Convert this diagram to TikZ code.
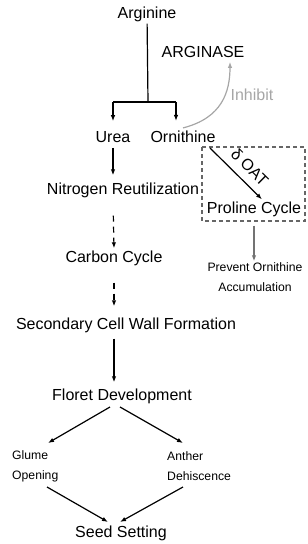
\documentclass[tikz,border=0pt]{standalone}
\usepackage{fontspec}
\setmainfont{Liberation Sans}
\usetikzlibrary{arrows.meta, calc}

\tikzset{
  big/.style={font=\fontsize{16}{18}\selectfont, inner sep=2pt},
  small/.style={font=\fontsize{12.2}{20}\selectfont, inner sep=1pt},
  flow/.style={line width=1.2pt, -{Latex[length=6pt,width=4.5pt]}},
  dashflow/.style={flow, dash pattern=on 6pt off 5pt},
}

\begin{document}
\begin{tikzpicture}[x=1pt, y=-1pt]
\useasboundingbox (0,0) rectangle (308,544);
% main column
\node[big] (arg) at (147,14) {Arginine};
\node[big] (arginase) at (203,52) {ARGINASE};
\node[big, text=black!35] (inhibit) at (252,95) {Inhibit};
\node[big] (urea) at (113,137) {Urea};
\node[big] (orn) at (183,137) {Ornithine};
\node[big] (nitro) at (123,190) {Nitrogen Reutilization};
\node[big] (carbon) at (114,258) {Carbon Cycle};
\node[big] (wall) at (126,325) {Secondary Cell Wall Formation};
\node[big] (floret) at (122,396) {Floret Development};
\node[small, align=left, anchor=west] (glume) at (11,466) {Glume\\Opening};
\node[small, align=left, anchor=west] (anther) at (166,466) {Anther\\Dehiscence};
\node[big] (seed) at (121,533) {Seed Setting};
% proline side
\node[big] (proline) at (254,209) {Proline Cycle};
\node[small, align=center] (prevent) at (255,277) {Prevent Ornithine\\Accumulation};
\coordinate (split) at (148,102);
\coordinate (ornin) at (176,102);
\coordinate (boxa) at (202,147);
\coordinate (boxb) at (305,221);
% ends of the slanted arrows
\coordinate (fl-l) at (110,407);
\coordinate (fl-r) at (120,407);
\coordinate (gl-in) at (48,443);
\coordinate (an-in) at (183,443);
\coordinate (gl-out) at (47,487);
\coordinate (an-out) at (183,487);
\coordinate (sd-l) at (108,522);
\coordinate (sd-r) at (120,522);

% arginine splits
\draw[line width=1.2pt] (arg) -- (split);
\draw[line width=1.2pt] (urea.north |- split) -- (ornin);
\draw[flow, shorten >=8pt] (urea.north |- split) -- (urea.north);
\draw[flow, shorten >=8pt] (ornin) -- (ornin |- orn.north);
\draw[black!35, line width=1.2pt, -{Latex[length=6pt,width=4.5pt]}]
  ($(orn.north)+(0,-1)$) .. controls (222,118) and (230,92) .. ($(arginase.south)+(27,2)$);

% down the column
\draw[flow, shorten <=3pt, shorten >=5pt] (urea.south) -- (urea.south |- nitro.north);
\draw[dashflow, shorten <=16pt] (urea.south |- nitro.south) -- (carbon.north);
\draw[dashflow, shorten <=15pt, shorten >=9pt] (carbon.south) -- (carbon.south |- wall.north);
\draw[flow, shorten <=4pt, shorten >=4pt] (carbon.south |- wall.south) -- (carbon.south |- floret.north);
\draw[flow] (fl-l) -- (gl-in);
\draw[flow] (fl-r) -- (an-in);
\draw[flow] (gl-out) -- (sd-l);
\draw[flow] (an-out) -- (sd-r);

% proline box
\draw[black!60, line width=1.2pt, dash pattern=on 4pt off 3pt] (boxa) rectangle (boxb);
\draw[flow] ($(boxa)+(8,1)$) -- ($(proline.north)+(8,0)$)
  node[pos=0.57, sloped, above=8pt, big, inner sep=0pt] {δ OAT};
\draw[black!55, line width=1.2pt, -{Latex[length=6pt,width=4.5pt]}]
  ($(boxb |- proline.south)+(-51,7)$) -- (prevent.north -| proline.south);
\end{tikzpicture}
\end{document}
